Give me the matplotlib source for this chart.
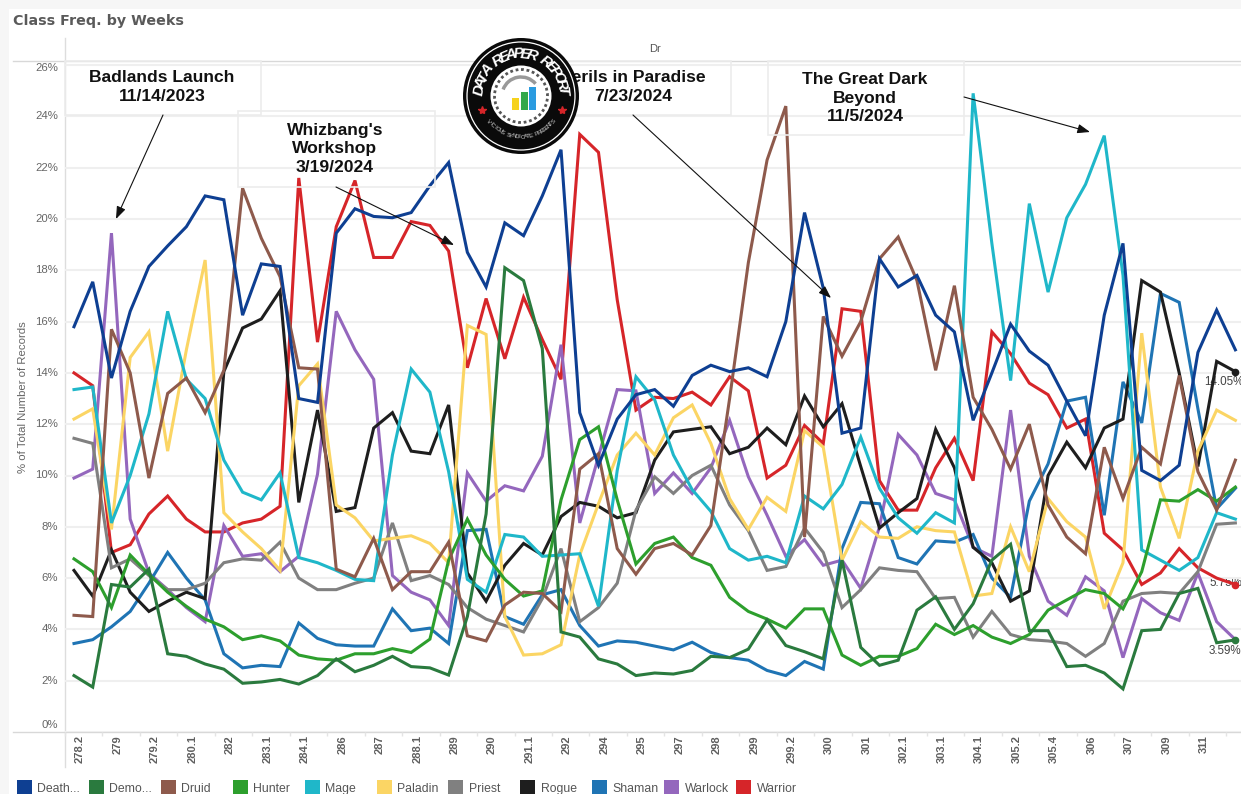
import matplotlib.pyplot as plt
import numpy as np
from matplotlib.patches import Arc, Circle, Rectangle

plt.rcParams["font.family"] = ["Liberation Sans", "DejaVu Sans"]

weeks = [
    "278.2", "279", "279.2", "280.1", "282", "283.1", "284.1", "286", "287", "288.1", "289",
    "290", "291.1", "292", "294", "295", "297", "298", "299", "299.2", "300", "301", "302.1",
    "303.1", "304.1", "305.2", "305.4", "306", "307", "309", "311",
]

death_knight = [
    15.8, 17.55, 13.8, 16.4, 18.15, 18.95, 19.7, 20.9, 20.75, 16.25, 18.25, 18.15, 13.0, 12.85,
    19.45, 20.4, 20.1, 20.05, 20.25, 21.3, 22.2, 18.7, 17.35, 19.85, 19.35, 20.9, 22.7, 12.45,
    10.4, 12.2, 13.15, 13.35, 12.7, 13.9, 14.3, 14.05, 14.2, 13.85, 16.0, 20.25, 17.3, 11.65,
    11.85, 18.45, 17.35, 17.8, 16.25, 15.6, 12.15, 14.0, 15.9, 14.85, 14.3, 12.9, 11.55, 16.25,
    19.05, 10.2, 9.8, 10.4, 14.8, 16.45, 14.9,
]
demon_hunter = [
    2.2, 1.75, 5.75, 5.65, 6.35, 3.05, 2.95, 2.65, 2.45, 1.9, 1.95, 2.05, 1.87, 2.2, 2.85, 2.35,
    2.6, 2.95, 2.55, 2.5, 2.22, 4.5, 8.5, 18.1, 17.6, 14.95, 3.9, 3.7, 2.85, 2.65, 2.2, 2.3,
    2.26, 2.4, 2.95, 2.9, 3.23, 4.37, 3.37, 3.13, 2.85, 6.7, 3.3, 2.6, 2.8, 4.75, 5.27, 4.0, 5.0,
    6.7, 7.32, 3.95, 3.95, 2.55, 2.6, 2.3, 1.68, 3.95, 4.0, 5.4, 5.6, 3.48, 3.59,
]
druid = [
    4.55, 4.5, 15.7, 14.0, 9.9, 13.2, 13.8, 12.45, 14.1, 21.2, 19.25, 17.75, 14.2, 14.15, 6.35,
    6.05, 7.55, 5.55, 6.25, 6.25, 7.4, 3.75, 3.55, 4.95, 5.45, 5.4, 4.7, 10.25, 10.85, 7.15, 6.15,
    7.15, 7.35, 6.9, 8.05, 13.0, 18.3, 22.3, 24.4, 7.6, 16.2, 14.65, 16.0, 18.45, 19.3, 17.6, 14.1,
    17.4, 13.05, 11.8, 10.25, 12.0, 8.85, 7.6, 6.95, 11.1, 9.1, 11.1, 10.45, 13.9, 10.15, 8.65, 10.6,
]
hunter = [
    6.75, 6.25, 4.85, 6.9, 6.15, 5.45, 4.9, 4.4, 4.1, 3.6, 3.75, 3.55, 3.0, 2.85, 2.8, 3.05, 3.05,
    3.25, 3.1, 3.62, 6.7, 8.3, 6.9, 5.95, 5.3, 5.5, 9.05, 11.4, 11.9, 9.05, 6.55, 7.35, 7.6, 6.8,
    6.5, 5.25, 4.7, 4.4, 4.05, 4.8, 4.8, 3.0, 2.6, 2.95, 2.95, 3.25, 4.2, 3.8, 4.15, 3.7, 3.45,
    3.8, 4.75, 5.15, 5.55, 5.4, 4.8, 6.25, 9.05, 9.0, 9.45, 9.0, 9.55,
]
mage = [
    13.35, 13.45, 8.15, 10.0, 12.4, 16.4, 13.75, 13.0, 10.6, 9.35, 9.05, 10.1, 6.8, 6.6, 6.3, 5.95,
    5.9, 10.8, 14.15, 13.25, 10.15, 5.95, 5.45, 7.7, 7.6, 6.85, 6.9, 6.95, 4.9, 10.2, 13.85, 12.95,
    10.8, 9.45, 8.6, 7.15, 6.7, 6.85, 6.6, 9.2, 8.7, 9.65, 11.5, 9.5, 8.35, 7.75, 8.55, 8.15, 24.9,
    19.05, 13.7, 20.6, 17.15, 20.05, 21.35, 23.25, 17.8, 7.1, 6.7, 6.3, 6.8, 8.55, 8.3,
]
paladin = [
    12.2, 12.6, 7.9, 14.6, 15.6, 10.95, 14.9, 18.4, 8.55, 7.8, 7.15, 6.3, 13.5, 14.35, 8.85, 8.35,
    7.45, 7.55, 7.65, 7.35, 6.6, 15.85, 15.5, 4.5, 3.0, 3.05, 3.4, 6.9, 8.9, 10.8, 11.65, 10.8,
    12.25, 12.75, 11.25, 9.1, 7.9, 9.15, 8.6, 11.75, 11.1, 6.7, 8.2, 7.6, 7.55, 8.0, 7.85, 7.8,
    5.3, 5.4, 8.0, 6.25, 9.1, 8.2, 7.6, 4.8, 6.6, 15.55, 9.55, 7.55, 10.95, 12.55, 12.15,
]
priest = [
    11.45, 11.25, 6.4, 6.75, 6.1, 5.55, 5.55, 5.8, 6.6, 6.75, 6.7, 7.4, 6.0, 5.55, 5.55, 5.8, 6.0,
    8.15, 5.9, 6.1, 5.75, 4.85, 4.4, 4.15, 3.9, 5.2, 7.15, 4.3, 4.85, 5.8, 8.65, 9.95, 9.3, 10.0,
    10.4, 8.85, 7.85, 6.3, 6.45, 7.95, 7.0, 4.85, 5.55, 6.4, 6.3, 6.25, 5.2, 5.25, 3.7, 4.7, 3.8,
    3.6, 3.55, 3.45, 2.95, 3.45, 5.1, 5.4, 5.45, 5.4, 6.25, 8.1, 8.15,
]
rogue = [
    6.3, 5.3, 7.1, 5.45, 4.7, 5.1, 5.45, 5.2, 14.05, 15.75, 16.1, 17.2, 8.95, 12.55, 8.6, 8.75,
    11.85, 12.45, 10.95, 10.85, 12.75, 6.2, 5.1, 6.5, 7.35, 6.9, 8.4, 8.95, 8.8, 8.35, 8.55, 10.6,
    11.7, 11.8, 11.9, 10.85, 11.1, 11.85, 11.2, 13.1, 11.9, 12.8, 10.35, 7.95, 8.55, 9.1, 11.8,
    10.3, 7.2, 6.6, 5.1, 5.5, 10.0, 11.3, 10.3, 11.85, 12.2, 17.6, 17.15, 14.0, 10.35, 14.45, 14.05,
]
shaman = [
    3.45, 3.6, 4.1, 4.7, 5.8, 7.0, 6.0, 5.15, 3.05, 2.5, 2.6, 2.55, 4.25, 3.65, 3.4, 3.35, 3.35,
    4.8, 3.95, 4.05, 3.45, 7.85, 7.9, 4.5, 4.2, 5.35, 5.55, 4.15, 3.35, 3.55, 3.5, 3.35, 3.2, 3.5,
    3.1, 2.9, 2.8, 2.4, 2.2, 2.75, 2.45, 7.15, 8.95, 8.9, 6.8, 6.55, 7.45, 7.4, 7.7, 6.0, 5.25, 9.0,
    10.45, 12.9, 13.05, 8.45, 13.65, 12.05, 17.1, 16.75, 12.6, 8.7, 9.5,
]
warlock = [
    9.9, 10.25, 19.45, 8.3, 6.2, 5.55, 4.85, 4.3, 8.05, 6.85, 6.95, 6.25, 6.85, 10.05, 16.4, 14.9,
    13.75, 6.1, 5.45, 5.15, 4.15, 10.1, 9.0, 9.6, 9.4, 10.75, 15.1, 8.15, 10.75, 13.35, 13.3, 9.3,
    10.1, 9.3, 10.3, 12.15, 9.95, 8.45, 6.85, 7.5, 6.5, 6.7, 5.6, 8.0, 11.6, 10.8, 9.3, 9.05, 7.2,
    6.85, 12.55, 6.85, 5.1, 4.55, 6.05, 5.5, 2.9, 5.2, 4.65, 4.35, 6.2, 4.3, 3.6,
]
warrior = [
    14.0, 13.5, 7.0, 7.3, 8.5, 9.2, 8.3, 7.8, 7.8, 8.15, 8.3, 8.8, 21.6, 15.2, 19.7, 21.5, 18.5,
    18.5, 19.9, 19.75, 18.75, 14.2, 16.9, 14.55, 16.95, 15.3, 13.75, 23.3, 22.6, 16.85, 12.55,
    13.05, 13.0, 13.25, 12.75, 13.85, 13.3, 9.9, 10.4, 11.95, 11.25, 16.5, 16.4, 9.8, 8.65, 8.65,
    10.3, 11.45, 9.8, 15.6, 14.75, 13.6, 13.15, 11.85, 12.2, 7.75, 7.1, 5.75, 6.2, 7.15, 6.4, 6.0, 5.75,
]

series = [
    ("Death...", death_knight, "#0e3f92"),
    ("Demo...", demon_hunter, "#2a7a3e"),
    ("Druid", druid, "#8e5a4c"),
    ("Hunter", hunter, "#2d9f2d"),
    ("Mage", mage, "#1fb7c9"),
    ("Paladin", paladin, "#fbd564"),
    ("Priest", priest, "#808080"),
    ("Rogue", rogue, "#1e1e1e"),
    ("Shaman", shaman, "#1f74b4"),
    ("Warlock", warlock, "#9467bd"),
    ("Warrior", warrior, "#d62529"),
]
end_labels = [("14.05%", rogue, 1204, 382), ("5.75%", warrior, 1209, 583), ("3.59%", demon_hunter, 1209, 651)]
y_ticks = [0, 2, 4, 6, 8, 10, 12, 14, 16, 18, 20, 22, 24, 26]
notes = [
    ("Badlands Launch\n11/14/2023", 162, 87, (65, 61, 196, 54), (163, 115), (116, 219)),
    ("Whizbang's\nWorkshop\n3/19/2024", 335, 149, (238, 111, 197, 76), (336, 187), (454, 245)),
    ("Perils in Paradise\n7/23/2024", 633, 87, (533, 61, 198, 54), (633, 115), (831, 298)),
    ("The Great Dark\nBeyond\n11/5/2024", 865, 98, (768, 61, 196, 74), (964, 97), (1090, 132)),
]

W, H = 1241, 794
fig = plt.figure(figsize=(W / 100, H / 100), dpi=100, facecolor="#f6f6f6")

# full figure layer in pixel coordinates for the dashboard furniture
page = fig.add_axes([0, 0, 1, 1], zorder=0)
page.set_xlim(0, W)
page.set_ylim(H, 0)
page.axis("off")
page.add_patch(Rectangle((9, 9), W, H, fc="white", ec="none"))
page.plot([13, W], [61, 61], color="#d8d8d8", lw=1)
page.plot([13, W], [732, 732], color="#d8d8d8", lw=1)
page.plot([65, 65], [38, 767], color="#dddddd", lw=1)
page.text(13, 21, "Class Freq. by Weeks", family="DejaVu Sans", weight="bold", fontsize=10.3,
          color="#5a5a5a", va="center")
page.text(655, 49, "Dr", fontsize=8, color="#555555", ha="center", va="center")
page.text(23, 397, "% of Total Number of Records", fontsize=8.2, color="#666666", rotation=90,
          ha="center", va="center")

ax = fig.add_axes([65 / W, 1 - 732 / H, (W - 65) / W, (732 - 61) / H], zorder=1)
ax.patch.set_alpha(0)
x = np.arange(len(death_knight))
for order, (name, values, color) in enumerate(series):
    ax.plot(x, values, color=color, lw=2.2, solid_joinstyle="miter", zorder=20 - order, clip_on=False)
for label, values, px, py in end_labels:
    color = [s[2] for s in series if s[1] is values][0]
    ax.plot(x[-1], values[-1], "o", ms=4.5, color=color, zorder=30)
    page.text(px, py, label, fontsize=8.4, color="#444444", ha="left", va="center", zorder=5)

ax.set_xlim(-0.48, 62.3)
ax.set_ylim(0, 671 / 25.65)
for side in ax.spines.values():
    side.set_visible(False)
ax.set_yticks(y_ticks)
ax.set_yticklabels([])
ax.grid(axis="y", color="#efefef", lw=1.5)
ax.set_axisbelow(True)
ax.tick_params(axis="y", length=0)
ax.set_xticks(np.arange(-0.48, 62.3, 2))
ax.set_xticklabels([])
ax.tick_params(axis="x", length=3, color="#e4e4e4", width=1)

# label y positions in the dashboard are nudged at both ends to stay inside the pane
for tick in y_ticks:
    py = 732 - 25.65 * tick
    if tick == 0:
        py = 725
    if tick == 26:
        py = 68
    page.text(58, py, f"{tick}%", fontsize=8.2, color="#666666", ha="right", va="center")
for i, week in enumerate(weeks):
    page.text(74 + 18.73 * (2 * i + 0.32), 735, week, fontsize=8, weight="bold", color="#5f5f5f",
              rotation=90, ha="center", va="top")

# overlay for the annotation boxes, arrows and the logo
top = fig.add_axes([0, 0, 1, 1], zorder=2)
top.set_xlim(0, W)
top.set_ylim(H, 0)
top.axis("off")
top.patch.set_alpha(0)

for text, tx, ty, box, start, end in notes:
    top.add_patch(Rectangle(box[:2], box[2], box[3], fc="none", ec="#ececec", lw=1.2))
    top.text(tx, ty, text, fontsize=12.6, weight="bold", color="#111111", ha="center", va="center",
             linespacing=1.28)
    top.annotate("", xy=end, xytext=start,
                 arrowprops=dict(arrowstyle="-|>,head_length=0.75,head_width=0.28", color="#111111",
                                 lw=0.8, shrinkA=0, shrinkB=0))

cx, cy = 521, 96
top.add_patch(Circle((cx, cy), 58, fc="#0a0a0a", ec="none", zorder=10))
top.add_patch(Circle((cx, cy), 54, fc="none", ec="white", lw=0.9, zorder=11))
top.add_patch(Circle((cx, cy), 30.5, fc="white", ec="none", zorder=11))
top.add_patch(Circle((cx, cy), 26.5, fc="none", ec="#555555", lw=2.0, ls=(0, (1, 1)), zorder=12))
top.add_patch(Arc((cx, cy), 38, 38, theta1=200, theta2=320, color="#999999", lw=2.5, zorder=12))
for bx, height, color in [(-9, 12, "#f6d21c"), (0, 18, "#33a84a"), (7.5, 23, "#2a9be0")]:
    top.add_patch(Rectangle((cx + bx, cy + 14 - height), 7, height, fc=color, ec="none", zorder=13))

ring_text = "DATA REAPER REPORT"
for angle, char in zip(np.linspace(172, 6, len(ring_text)), ring_text):
    rad = np.radians(angle)
    top.text(cx + 42 * np.cos(rad), cy - 42 * np.sin(rad), char, fontsize=11, weight="bold", style="italic",
             color="white", rotation=angle - 90, ha="center", va="center", zorder=14)
lower_text = "VICIOUS SYNDICATE PRESENTS"
for angle, char in zip(np.linspace(218, 322, len(lower_text)), lower_text):
    rad = np.radians(angle)
    top.text(cx + 41 * np.cos(rad), cy - 41 * np.sin(rad), char, fontsize=4.4, color="#cccccc",
             rotation=angle + 90, ha="center", va="center", zorder=14)
for sx in (482, 562):
    top.plot(sx, 110, "*", ms=6, color="#d62529", zorder=14)

for k, (name, _, color) in enumerate(series):
    page.add_patch(Rectangle((17 + 71.9 * k, 780), 15, 14, fc=color, ec="none"))
    page.text(37.5 + 71.9 * k, 789, name, fontsize=8.8, color="#555555", va="center")

fig.savefig("out.png", dpi=100, facecolor=fig.get_facecolor())
